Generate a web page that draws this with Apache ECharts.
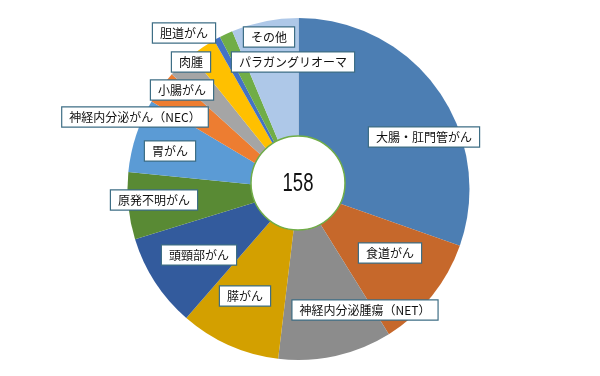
<!DOCTYPE html>
<html><head><meta charset="utf-8">
<script src="https://cdn.jsdelivr.net/npm/echarts@6/dist/echarts.min.js"></script>
<style>html,body{margin:0;padding:0;background:#fff;}#c{width:600px;height:376px;}</style>
</head><body><div id="c"></div>
<script>
const categories = ['大腸・肛門管がん','食道がん','神経内分泌腫瘍（NET）','膵がん','頭頸部がん','原発不明がん','胃がん','神経内分泌がん（NEC）','小腸がん','肉腫','胆道がん','パラガングリオーマ','その他'];
const values = [48, 17, 17, 15, 14, 10, 11, 5, 4, 4, 1, 2, 10];
const total = values.reduce((a,b)=>a+b,0);
const colors = ['#4C7EB3','#C6682B','#8C8C8C','#D3A000','#335B9D','#598A34','#5B9BD5','#ED7D31','#A5A5A5','#FFC000','#4472C4','#70AD47','#AEC8E8'];
// label box centres (layout only)
const labelPos = [[424,137],[390,253],[365,310],[245,296],[199,255],[154,200],[170,151],[135,117],[182,90],[191,62],[184,33],[293,62],[269,37]];
const chart = echarts.init(document.getElementById('c'));
chart.setOption({
  animation:false,
  series:[{
    type:'pie',
    center:[298.5,189],
    radius:[0,171],
    startAngle:90,
    clockwise:true,
    silent:true,
    data: categories.map((n,i)=>({name:n,value:values[i],itemStyle:{color:colors[i]}})),
    itemStyle:{borderWidth:0},
    label:{
      show:true,
      position:'inside',
      formatter:'{b}',
      overflow:'none',
      fontFamily:'"Noto Sans CJK JP", sans-serif',
      fontSize:12,
      color:'#111',
      backgroundColor:'#fff',
      borderColor:'#3E6E85',
      borderWidth:1.2,
      padding:[4,7,3,7]
    },
    labelLine:{show:false},
    labelLayout:function(p){
      const q = labelPos[p.dataIndex];
      return {x:q[0], y:q[1], align:'center', verticalAlign:'middle'};
    }
  }],
  graphic:[
    {type:'circle', shape:{cx:298,cy:183,r:47}, style:{fill:'#fff', stroke:'#70AD47', lineWidth:1.5}, z:10},
    {type:'text', x:298, y:184, scaleX:0.74, style:{text:String(total), fontSize:25, fontFamily:'"Liberation Sans",Arial,sans-serif', fill:'#111', align:'center', verticalAlign:'middle'}, z:11}
  ]
});
</script></body></html>
